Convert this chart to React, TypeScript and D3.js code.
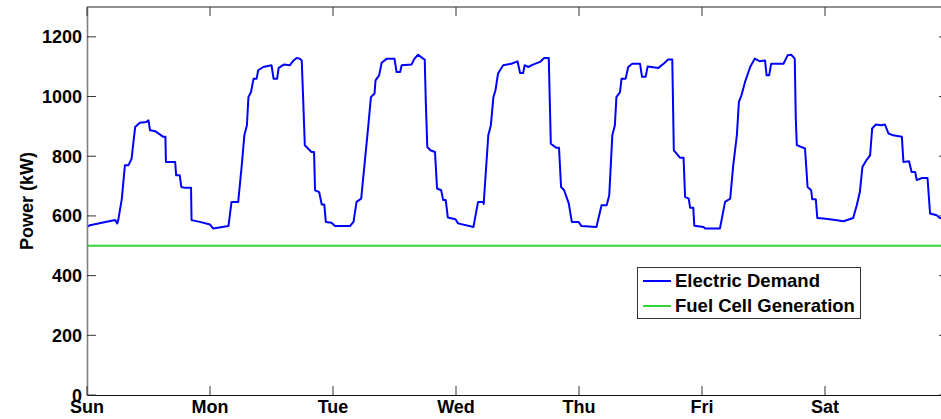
import React from "react";
import * as d3 from "d3";

const dayLabels = ["Sun", "Mon", "Tue", "Wed", "Thu", "Fri", "Sat"];
const yTicks = [0, 200, 400, 600, 800, 1000, 1200];
const fuelCell = 500;

const hours = [
  0, 0.6, 2.9, 5.5, 5.9, 6.1, 6.8, 7.4, 8.1, 8.7, 9.4, 10.3, 11.6, 12.0, 12.3, 13.3, 14.9, 15.3, 15.4, 17.2, 17.4, 18.1, 18.4, 19.1, 20.3, 20.4, 22.0, 24.0,
  24.6, 27.6, 28.2, 29.5, 30.2, 30.7, 31.2, 31.5, 32.0, 32.5, 33.1, 33.4, 34.4, 36.0, 36.4, 37.1, 37.4, 38.4, 39.6, 40.3, 40.9, 41.5, 41.9, 42.2, 42.5, 43.8, 44.3, 44.5, 45.3, 45.8, 46.3, 46.6, 47.7, 48.4,
  51.3, 52.0, 52.6, 53.5, 54.2, 54.9, 55.4, 56.1, 56.3, 57.0, 57.5, 58.5, 60.0, 60.4, 61.1, 61.4, 63.3, 63.9, 64.6, 65.6, 65.9, 66.1, 66.4, 67.0, 67.9, 68.3, 69.1, 69.5, 70.0, 70.4, 71.9, 72.4,
  75.4, 76.3, 77.3, 77.4, 78.3, 78.8, 79.3, 79.7, 80.2, 81.2, 82.8, 84.0, 84.5, 85.1, 85.4, 86.1, 87.0, 88.4, 89.2, 90.1, 90.5, 91.6, 92.1, 92.5, 93.1, 94.0, 94.6, 95.9, 96.5,
  99.4, 100.4, 101.4, 101.9, 102.5, 103.0, 103.3, 104.0, 104.3, 105.1, 105.6, 106.4, 107.9, 108.3, 109.0, 109.4, 111.5, 112.5, 113.4, 114.2, 114.5, 115.7, 116.4, 116.7, 117.4, 117.7, 118.3, 118.5, 120.3,
  120.6, 123.5, 124.5, 125.5, 126.1, 126.8, 127.2, 127.7, 128.4, 129.4, 130.3, 131.3, 132.3, 132.6, 133.1, 133.5, 135.9, 136.7, 137.4, 138.1, 138.3, 138.5, 140.1, 140.6, 141.3, 141.5, 142.2, 142.5, 143.7,
  145.3, 147.6, 149.5, 150.2, 150.8, 151.3, 152.1, 152.8, 153.2, 153.9, 155.0, 155.7, 156.4, 157.3, 159.0, 159.3, 160.4, 160.9, 161.6, 161.9, 162.9, 164.0, 164.5, 165.8, 166.4, 168.0,
];

const demand = [
  563, 569, 577, 586, 575, 586, 658, 770, 770, 792, 898, 912, 915, 920, 887, 884, 865, 865, 781, 781, 736, 736, 697, 694, 694, 586, 580, 571,
  558, 566, 647, 647, 770, 870, 904, 998, 1015, 1060, 1060, 1088, 1099, 1105, 1060, 1060, 1096, 1107, 1105, 1121, 1129, 1127, 1121, 982, 837, 814, 814, 686, 680, 638, 638, 580, 577, 566,
  566, 580, 647, 658, 781, 904, 998, 1010, 1054, 1071, 1113, 1127, 1127, 1082, 1082, 1105, 1107, 1127, 1140, 1127, 1124, 987, 831, 820, 814, 692, 686, 653, 653, 595, 589, 575,
  563, 647, 647, 640, 870, 904, 998, 1021, 1077, 1105, 1110, 1118, 1079, 1079, 1105, 1099, 1107, 1116, 1129, 1129, 842, 828, 828, 697, 686, 642, 580, 580, 566,
  563, 636, 636, 669, 870, 904, 998, 1015, 1060, 1060, 1099, 1110, 1110, 1066, 1066, 1101, 1096, 1110, 1124, 1124, 820, 795, 795, 664, 658, 627, 627, 567, 563,
  558, 558, 647, 658, 770, 870, 982, 1004, 1049, 1099, 1127, 1118, 1121, 1071, 1071, 1110, 1110, 1138, 1140, 1127, 926, 837, 826, 697, 686, 656, 656, 593, 591,
  588, 582, 593, 636, 680, 764, 787, 803, 893, 906, 904, 906, 876, 870, 865, 781, 783, 747, 747, 720, 727, 727, 608, 602, 593, 590,
];

const W = 941;
const H = 419;
const FONT = "'Liberation Sans', Arial, Helvetica, sans-serif";

export default function App() {
  const x = d3.scaleLinear().domain([0, 168]).range([87, 948]);
  const y = d3.scaleLinear().domain([0, 1300]).range([395, 7]);
  const pts = hours.map((h, i) => [h, demand[i]] as [number, number]);
  const line = d3
    .line<[number, number]>()
    .x((d) => x(d[0]))
    .y((d) => y(d[1]));
  const dayTicks = dayLabels.map((_, i) => i * 24);
  const tickLen = 9;
  const tickColor = "#333";

  return (
    <svg
      width={W}
      height={H}
      style={{ position: "absolute", left: 0, top: 0, background: "#fff" }}
      fontFamily={FONT}
    >
      <rect x={0} y={0} width={W} height={H} fill="#fff" />
      {/* data */}
      <line
        x1={x(0)}
        x2={x(168)}
        y1={y(fuelCell)}
        y2={y(fuelCell)}
        stroke="#33d633"
        strokeWidth={2}
      />
      <path d={line(pts) || ""} fill="none" stroke="#0000ff" strokeWidth={2} strokeLinejoin="round" />

      {/* box */}
      <line x1={x(0)} x2={x(168)} y1={y(1300)} y2={y(1300)} stroke="#222" strokeWidth={1} />
      <line x1={x(0)} x2={x(168)} y1={395.5} y2={395.5} stroke="#111" strokeWidth={1.2} />
      <line x1={87.5} x2={87.5} y1={y(1300)} y2={395.5} stroke="#808080" strokeWidth={1.6} />
      <line x1={947.5} x2={947.5} y1={y(1300)} y2={395.5} stroke="#222" strokeWidth={1} />

      {/* y ticks */}
      {yTicks.map((t) => (
        <g key={"y" + t}>
          <line x1={87} x2={87 + tickLen} y1={y(t)} y2={y(t)} stroke={tickColor} strokeWidth={1} />
          <line x1={948 - tickLen} x2={948} y1={y(t)} y2={y(t)} stroke={tickColor} strokeWidth={1} />
          <text
            x={82}
            y={y(t) + 6.5}
            textAnchor="end"
            fontSize={18}
            fontWeight="bold"
            fill="#000"
          >
            {t}
          </text>
        </g>
      ))}

      {/* x ticks */}
      {dayTicks.map((t, i) => (
        <g key={"x" + t}>
          <line x1={x(t)} x2={x(t)} y1={395} y2={395 - tickLen} stroke={tickColor} strokeWidth={1} />
          <line x1={x(t)} x2={x(t)} y1={7} y2={7 + tickLen} stroke={tickColor} strokeWidth={1} />
          <text x={x(t)} y={413} textAnchor="middle" fontSize={18} fontWeight="bold" fill="#000">
            {dayLabels[i]}
          </text>
        </g>
      ))}

      {/* y label */}
      <text
        transform={`translate(33,${(y(0) + y(1300)) / 2}) rotate(-90)`}
        textAnchor="middle"
        fontSize={18}
        fontWeight="bold"
        fill="#000"
      >
        Power (kW)
      </text>

      {/* legend */}
      <rect x={637.5} y={267.5} width={223} height={51} fill="#fff" stroke="#333" strokeWidth={1} />
      <line x1={643} x2={671} y1={281} y2={281} stroke="#0000ff" strokeWidth={2} />
      <line x1={643} x2={671} y1={306} y2={306} stroke="#33d633" strokeWidth={2} />
      <text x={675} y={287} fontSize={18.5} fontWeight="bold" fill="#000">
        Electric Demand
      </text>
      <text x={675} y={312} fontSize={18.5} fontWeight="bold" fill="#000">
        Fuel Cell Generation
      </text>
    </svg>
  );
}
